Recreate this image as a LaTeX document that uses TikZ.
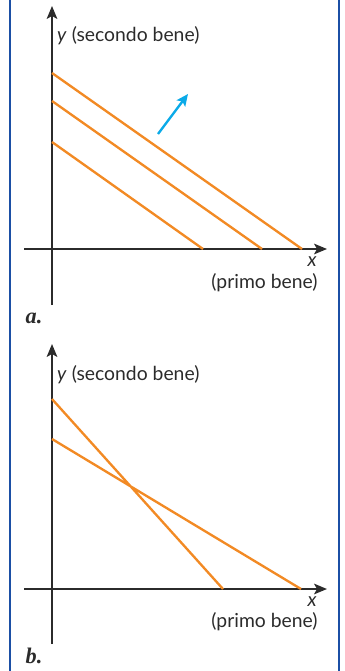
\documentclass[tikz,border=0pt]{standalone}
\usepackage{fontspec}
\setmainfont{Lato}
\newfontfamily\lettera{Liberation Serif}
\usepackage{xcolor}
\usepackage{tikz}
\usetikzlibrary{arrows.meta}
\definecolor{arancio}{HTML}{F28A24}
\definecolor{celeste}{HTML}{0AAAE8}
\definecolor{bordo}{HTML}{1B4FA5}
\definecolor{testo}{HTML}{2B2B2B}

\begin{document}
\begin{tikzpicture}[x=0.03cm,y=-0.03cm,>=Stealth,
  asse/.style={line width=1.8pt,testo,-{Stealth[length=11pt,width=9pt,inset=2.5pt]}},
  retta/.style={line width=2pt,arancio},
  etich/.style={font=\fontsize{16.5}{18}\selectfont,text=testo,inner sep=0pt},
  panlab/.style={font=\lettera\bfseries\itshape\fontsize{19}{20}\selectfont,text=testo,inner sep=0pt}]
\useasboundingbox (0,0) rectangle (345,671);
% cornice
\draw[bordo,line width=2.2pt](10,0)--(10,671)
(339,0)--(339,671);
% pannello a
\coordinate (ya0) at (52,305);
\coordinate (ya1) at (52,6);
\coordinate (xa0) at (24,249);
\coordinate (xa1) at (327,249);
\draw[asse](ya0)--(ya1);
\draw[asse](xa0)--(xa1);
\coordinate (a1) at (52,73);
\coordinate (a2) at (52,101);
\coordinate (a3) at (52,142);
\coordinate (b1) at (302,249);
\coordinate (b2) at (262,249);
\coordinate (b3) at (203,249);
\draw[retta](a1)--(b1)
(a2)--(b2)
(a3)--(b3);
\coordinate (fa0) at (158,134);
\coordinate (fa1) at (188,94);
\draw[celeste,line width=2pt,-{Stealth[length=10pt,width=9pt,inset=2pt]}](fa0)--(fa1);
\node[etich,anchor=west](ylaba) at (57,36){\textit{y} (secondo bene)};
\node[etich](xlaba) at (312,262){\textit{x}};
\node[etich](plaba) at (264.5,283){(primo bene)};
\node[panlab](laba) at (34,318){a.};
% pannello b
\coordinate (yb0) at (52,644);
\coordinate (yb1) at (52,344);
\coordinate (xb0) at (24,589);
\coordinate (xb1) at (327,589);
\draw[asse](yb0)--(yb1);
\draw[asse](xb0)--(xb1);
\coordinate (c1) at (52,399);
\coordinate (c2) at (52,439);
\coordinate (d1) at (223,589);
\coordinate (d2) at (301,589);
\draw[retta](c1)--(d1)
(c2)--(d2);
\node[etich,anchor=west](ylabb) at (57,375){\textit{y} (secondo bene)};
\node[etich](xlabb) at (312,602){\textit{x}};
\node[etich](plabb) at (264.5,622){(primo bene)};
\node[panlab](labb) at (34,656){b.};
\end{tikzpicture}
\end{document}
